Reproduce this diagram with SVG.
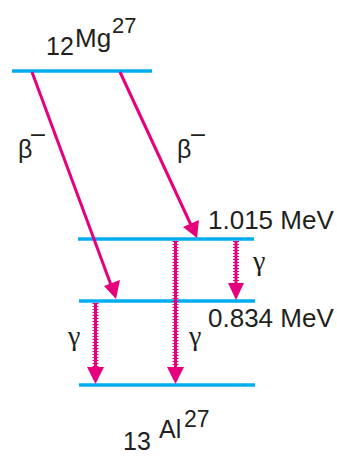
<svg xmlns="http://www.w3.org/2000/svg" width="337" height="472" viewBox="0 0 337 472">
<style>
.lvl{stroke:#00AEEF;stroke-width:3.5;fill:none}
.beta{stroke:#E6007E;stroke-width:3;fill:none}
.gcore{stroke:#E6007E;stroke-width:3;fill:none}
.gteeth{stroke:#E6007E;stroke-width:6;stroke-dasharray:1 2;fill:none}
.head{fill:#E6007E}
.t{font-family:"Liberation Sans",Arial,sans-serif;fill:#231F20}
.g{font-family:"Liberation Serif","Times New Roman",serif;fill:#231F20;font-size:28px}
</style>
<rect width="337" height="472" fill="#fff"/>
<g id="level-mg">
<line class="lvl" x1="12" y1="71" x2="152" y2="71"/>
<text class="t"><tspan x="46" y="55" font-size="25">12</tspan><tspan x="75" y="47" font-size="26">Mg</tspan><tspan x="112" y="33" font-size="22">27</tspan></text>
</g>
<g id="level-1015">
<line class="lvl" x1="78" y1="239" x2="254" y2="239"/>
<text class="t" x="208" y="229" font-size="26">1.015 MeV</text>
</g>
<g id="level-0834">
<line class="lvl" x1="79" y1="301" x2="255" y2="301"/>
<text class="t" x="208" y="327" font-size="26">0.834 MeV</text>
</g>
<g id="level-al">
<line class="lvl" x1="79" y1="385" x2="255" y2="385"/>
<text class="t"><tspan x="123" y="450" font-size="25">13</tspan><tspan x="159" y="438" font-size="25">Al</tspan><tspan x="184" y="427" font-size="23">27</tspan></text>
</g>
<g id="connectors">
<line class="beta" x1="32" y1="72" x2="111" y2="285"/>
<polygon class="head" points="116,299 104,286 120,280"/>
<line class="beta" x1="120" y1="72" x2="191" y2="225"/>
<polygon class="head" points="197,238 183,227 199,220"/>
<line class="gcore" x1="236" y1="241" x2="236" y2="284"/>
<line class="gteeth" x1="236" y1="241" x2="236" y2="284"/>
<polygon class="head" points="228,283 244,283 236,300"/>
<line class="gcore" x1="175.5" y1="241" x2="175.5" y2="368"/>
<line class="gteeth" x1="175.5" y1="241" x2="175.5" y2="368"/>
<polygon class="head" points="167,367 184,367 175.5,384"/>
<line class="gcore" x1="95.5" y1="303" x2="95.5" y2="368"/>
<line class="gteeth" x1="95.5" y1="303" x2="95.5" y2="368"/>
<polygon class="head" points="87,367 104,367 95.5,384"/>
</g>
<g id="labels">
<text class="t" font-size="25"><tspan x="18" y="158">β</tspan><tspan x="31" y="142">–</tspan></text>
<text class="t" font-size="25"><tspan x="177" y="158">β</tspan><tspan x="191" y="142">–</tspan></text>
<text class="g" x="253" y="270">γ</text>
<text class="g" x="68" y="345">γ</text>
<text class="g" x="189" y="345">γ</text>
</g>
</svg>
